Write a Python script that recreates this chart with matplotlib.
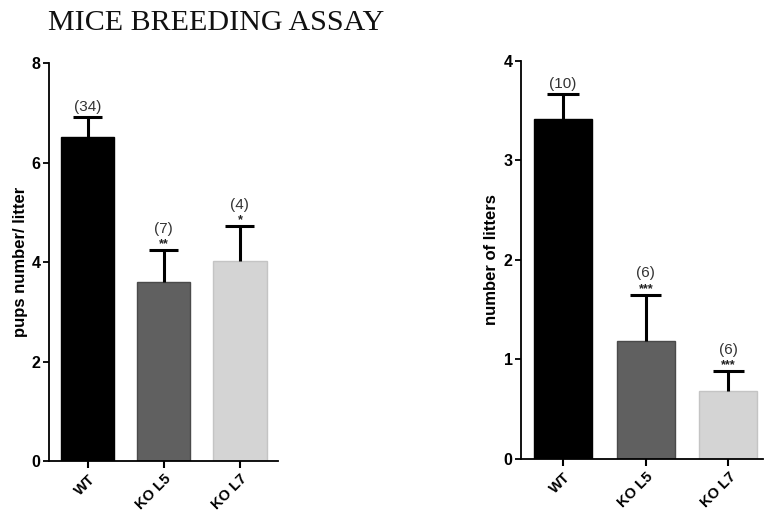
import matplotlib
matplotlib.use("Agg")
import matplotlib.pyplot as plt

categories = ["WT", "KO L5", "KO L7"]
colors = ["#000000", "#606060", "#d4d4d4"]

pups_values = [6.52, 3.6, 4.02]
pups_errors = [0.40, 0.64, 0.70]
pups_n = ["(34)", "(7)", "(4)"]
pups_stars = ["", "**", "*"]

litters_values = [3.41, 1.18, 0.68]
litters_errors = [0.26, 0.47, 0.20]
litters_n = ["(10)", "(6)", "(6)"]
litters_stars = ["", "***", "***"]

fig = plt.figure(figsize=(7.64, 5.12), dpi=100)
fig.text(0.063, 0.955, "MICE BREEDING ASSAY", family="Liberation Serif",
         fontsize=21.6, ha="left", va="center", color="#111111")

def panel(rect, values, errors, ns, stars, ymax, yticks, ylabel, xmax, ylabel_x):
    ax = fig.add_axes(rect)
    x = list(range(len(categories)))
    ax.bar(x, values, width=0.7, color=colors, edgecolor=["#000000", "#4a4a4a", "#c4c4c4"],
           linewidth=1.0, zorder=2)
    tops = [v + e for v, e in zip(values, errors)]
    ax.vlines(x, values, tops, colors="black", linewidth=2.2, zorder=3)
    ax.hlines(tops, [xi - 0.19 for xi in x], [xi + 0.19 for xi in x],
              colors="black", linewidth=2.2, zorder=3)
    for xi, top, n, s in zip(x, tops, ns, stars):
        if s:
            ax.annotate(s, (xi, top), xytext=(0, 2), textcoords="offset points",
                        ha="center", va="baseline", fontsize=9, fontweight="bold",
                        color="#222222", family="Liberation Sans")
            ax.annotate(n, (xi, top), xytext=(0, 12.5), textcoords="offset points",
                        ha="center", va="baseline", fontsize=11, color="#333333",
                        family="Liberation Sans")
        else:
            ax.annotate(n, (xi, top), xytext=(0, 4), textcoords="offset points",
                        ha="center", va="baseline", fontsize=11, color="#333333",
                        family="Liberation Sans")
    ax.set_ylim(0, ymax)
    ax.set_xlim(-0.51, xmax)
    ax.set_yticks(yticks)
    ax.set_yticklabels([str(t) for t in yticks], fontweight="bold", fontsize=11.5,
                       family="Liberation Sans")
    ax.set_xticks(x)
    ax.set_xticklabels(categories, rotation=45, ha="right", rotation_mode="anchor",
                       fontweight="bold", fontsize=10.5, family="Liberation Sans")
    ax.spines["top"].set_visible(False)
    ax.spines["right"].set_visible(False)
    ax.spines["left"].set_linewidth(1.3)
    ax.spines["bottom"].set_linewidth(1.3)
    ax.tick_params(axis="y", direction="out", length=4, width=1.3, pad=2)
    ax.tick_params(axis="x", direction="out", length=5, width=1.5, pad=3)
    ax.set_ylabel(ylabel, fontweight="bold", fontsize=12, family="Liberation Sans")
    ax.yaxis.set_label_coords(ylabel_x, 0.5)
    return ax

panel([0.0641, 0.0996, 0.2997, 0.777], pups_values, pups_errors, pups_n, pups_stars,
      8, [0, 2, 4, 6, 8], "pups number/ litter", 2.5, -0.093)
panel([0.682, 0.1035, 0.3168, 0.778], litters_values, litters_errors, litters_n, litters_stars,
      4, [0, 1, 2, 3, 4], "number of litters", 2.42, -0.093)

fig.savefig("out.png", dpi=100)
